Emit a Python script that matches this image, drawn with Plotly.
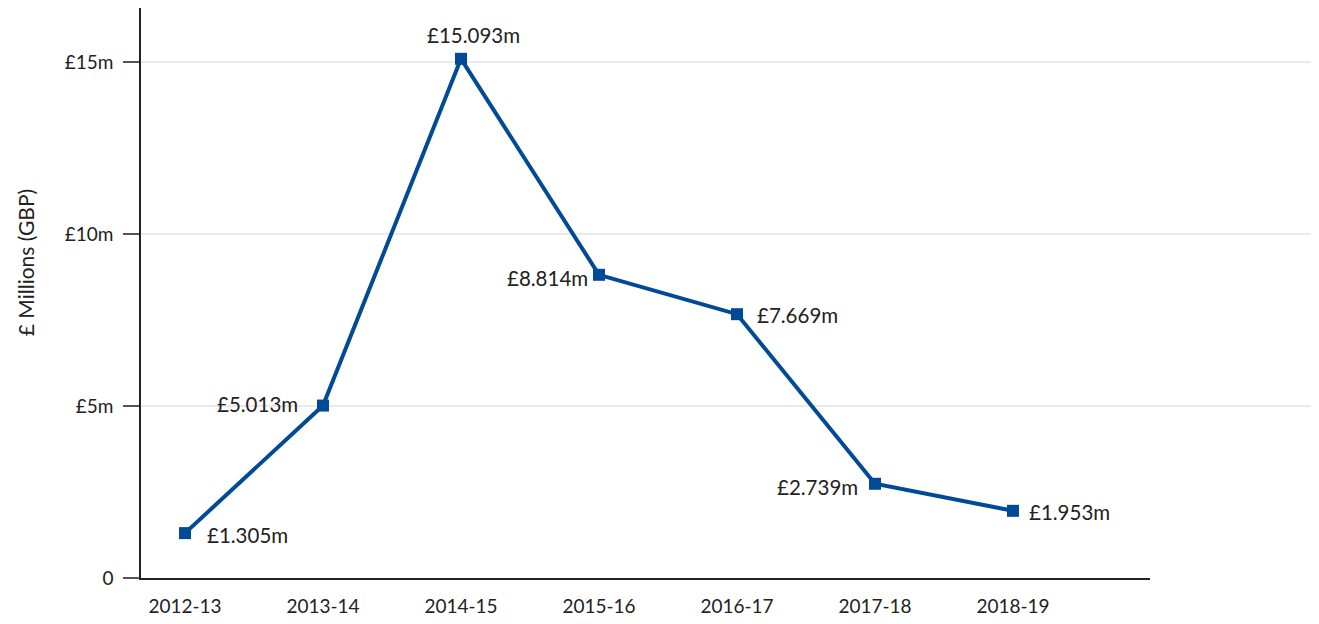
import plotly.graph_objects as go

years = ["2012-13", "2013-14", "2014-15", "2015-16", "2016-17", "2017-18", "2018-19"]
values = [1.305, 5.013, 15.093, 8.814, 7.669, 2.739, 1.953]
labels = ["£1.305m", "£5.013m", "£15.093m", "£8.814m", "£7.669m", "£2.739m", "£1.953m"]
y_ticks = [0, 5, 10, 15]
y_tick_text = ["0", "£5m", "£10m", "£15m"]

# label placement styling (anchor, pixel shifts)
lab_xanchor = ["left", "right", "center", "right", "left", "right", "left"]
lab_yanchor = ["middle", "middle", "bottom", "middle", "middle", "middle", "middle"]
lab_xshift = [20, -23, 12, -9, 18, -15, 14]
lab_yshift = [-2, 2, 10, -3, -1, -3, -1]

FONT = "Lato"
TXT = "#222222"
BLUE = "#004A98"

x_idx = list(range(len(years)))

fig = go.Figure()
fig.add_trace(go.Scatter(
    x=x_idx, y=values, mode="lines+markers",
    line=dict(color=BLUE, width=4),
    marker=dict(symbol="square", size=12, color=BLUE),
    cliponaxis=False, showlegend=False, hoverinfo="skip",
))

for i, (xv, yv, t) in enumerate(zip(x_idx, values, labels)):
    fig.add_annotation(x=xv, y=yv, xref="x", yref="y", text=t, showarrow=False,
                       xanchor=lab_xanchor[i], yanchor=lab_yanchor[i],
                       xshift=lab_xshift[i], yshift=lab_yshift[i],
                       font=dict(family=FONT, size=20.5, color=TXT))

fig.add_annotation(text="£ Millions (GBP)", textangle=-90, xref="paper", yref="paper",
                   x=-0.115, y=0.554, xanchor="center", yanchor="middle", showarrow=False,
                   font=dict(family=FONT, size=21, color=TXT))

for v in y_ticks[1:]:
    fig.add_shape(type="line", xref="paper", yref="y", x0=0, x1=1.17, y0=v, y1=v,
                  line=dict(color="#d6d6d6", width=1), layer="below")

fig.update_layout(
    width=1303, height=608,
    margin=dict(l=133, r=161, t=0, b=38),
    paper_bgcolor="white", plot_bgcolor="white",
    font=dict(family=FONT, color=TXT),
    xaxis=dict(
        range=[-0.319, 6.993], tickmode="array", tickvals=x_idx, ticktext=years,
        showgrid=False, zeroline=False, showline=True, linecolor="#222222", linewidth=1.5,
        ticks="", tickfont=dict(family=FONT, size=19, color=TXT), ticklabelstandoff=10,
    ),
    yaxis=dict(
        range=[0, 16.57], tickmode="array", tickvals=y_ticks, ticktext=y_tick_text,
        showgrid=False, zeroline=False, showline=True, linecolor="#222222", linewidth=1.5,
        ticks="outside", ticklen=16, tickcolor="#555555", tickwidth=1.5,
        tickfont=dict(family=FONT, size=19, color=TXT), ticklabelstandoff=6,
    ),
)

fig.write_html("out.html")
